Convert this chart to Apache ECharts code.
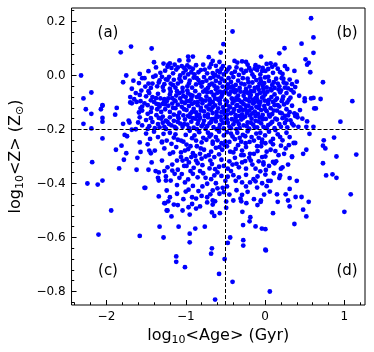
<!DOCTYPE html>
<html>
<head>
<meta charset="utf-8">
<script src="https://cdn.jsdelivr.net/npm/echarts@6/dist/echarts.min.js"></script>
<style>
  html, body { margin: 0; padding: 0; background: #fff; }
  #chart { width: 374px; height: 352px; }
</style>
</head>
<body>
<div id="chart"></div>
<script>
// [log10 <Age>, log10 <Z>] for each galaxy
var stars = [
  // upper outliers
  [-1.82,0.086],[-1.69,0.107],[-1.43,0.100],[-0.41,0.163],[-0.525,0.116],[-0.56,0.085],[-0.71,0.068],
  [-0.97,0.070],[-0.91,0.070],[-1.08,0.056],[-0.965,0.056],[-0.66,0.054],[-0.575,0.050],[-0.385,0.054],
  [-0.05,0.070],[0.58,0.212],[0.61,0.141],[0.46,0.118],[0.245,0.101],[0.18,0.082],[0.61,0.084],
  [0.51,0.060],[0.55,0.047],[0.53,0.040],[-1.40,0.049],[-1.28,0.044],[-0.29,0.052],[-0.24,0.050],[-0.35,0.048],
  // 0 .. 0.05
  [-2.32,0.000],[-1.75,0.000],[-1.375,0.030],[-1.47,0.016],[-1.23,0.032],[-1.22,0.040],[-1.20,0.045],
  [-1.10,0.030],[-1.05,0.035],[-1.02,0.028],[-0.98,0.037],[-0.95,0.030],[-1.00,0.020],[-1.12,0.022],
  [0.02,0.043],[0.07,0.045],[0.13,0.040],[0.005,0.017],[0.37,0.017],[0.57,0.012],[-0.89,0.004],
  [-0.76,0.022],[-0.66,0.009],[-0.60,0.017],[-0.55,0.025],[-0.49,0.014],[-0.38,0.014],[-0.30,0.022],
  [-0.24,0.017],[-0.16,0.004],[-0.036,0.017],[-1.07,0.000],[-0.84,0.012],[-0.70,0.030],[-0.45,0.030],
  [-0.20,0.028],[-0.10,0.020],[0.10,0.010],[0.22,0.006],[-1.32,0.010],[-1.58,0.006],[-0.62,0.036],
  [-0.78,0.040],[-0.12,0.038],[0.28,0.024],[-1.16,0.008],[-0.93,0.012],[-0.52,0.004],[-0.33,0.002],
  [-0.06,0.004],[0.16,0.025],
  [-1.26,0.018],[-1.18,0.028],[-1.14,0.040],[-1.03,0.010],[-0.97,0.004],[-0.91,0.025],[-0.87,0.038],
  [-0.81,0.020],[-0.73,0.008],[-0.68,0.042],[-0.63,0.002],[-0.57,0.012],[-0.53,0.035],[-0.47,0.022],
  [-0.42,0.008],[-0.36,0.030],[-0.27,0.010],[-0.22,0.040],[-0.18,0.018],[-0.13,0.026],[-0.08,0.032],
  [-0.03,0.028],[0.04,0.024],[0.09,0.032],[0.19,0.012],[0.25,0.035],
  // -0.05 .. 0
  [-1.59,-0.028],[-1.52,-0.010],[-1.55,-0.010],[-1.41,-0.005],[-1.38,-0.001],[-1.34,-0.026],[-1.25,-0.014],
  [-1.51,-0.041],[-1.44,-0.046],[-1.29,-0.043],[-0.84,-0.017],[-0.74,-0.019],[-0.59,-0.004],[-0.11,-0.017],
  [0.00,-0.007],[-0.34,-0.019],[-0.43,-0.024],[-1.23,-0.016],[-1.15,-0.016],[-1.01,-0.008],[-0.95,-0.019],
  [-0.87,-0.033],[-0.80,-0.041],[-0.72,-0.046],[-0.67,-0.030],[-0.535,-0.041],[-0.47,-0.033],[-0.32,-0.046],
  [-0.26,-0.033],[-0.195,-0.041],[-0.13,-0.046],[-0.07,-0.030],[-1.20,-0.049],[-1.04,-0.046],[0.21,-0.010],
  [0.235,-0.026],[0.40,-0.023],[0.73,-0.025],[0.38,-0.043],[-1.79,-0.025],[-1.66,-0.019],[-1.47,-0.030],
  [-1.30,-0.005],[-1.10,-0.030],[-0.90,-0.008],[-0.62,-0.020],[-0.55,-0.012],[-0.40,-0.006],[-0.22,-0.012],
  [-0.03,-0.038],[0.05,-0.020],[0.09,-0.035],[0.14,-0.012],[0.18,-0.040],[0.27,-0.030],[0.31,-0.015],
  [-0.16,-0.026],[-0.48,-0.048],[-0.64,-0.038],[-0.98,-0.040],[-1.16,-0.036],[-1.36,-0.040],[-0.77,-0.006],
  [-0.28,-0.010],[0.12,-0.046],[0.25,-0.045],[-0.06,-0.012],[-0.37,-0.035],[-0.57,-0.027],[-0.82,-0.028],
  [-1.06,-0.022],[-1.19,-0.030],[-0.69,-0.010],[-0.44,-0.044],[0.02,-0.044],
  [-1.42,-0.030],[-1.33,-0.018],[-1.27,-0.032],[-1.21,-0.005],[-1.13,-0.045],[-1.08,-0.012],[-0.96,-0.030],
  [-0.92,-0.045],[-0.86,-0.010],[-0.79,-0.025],[-0.75,-0.052],[-0.70,-0.035],[-0.65,-0.005],[-0.60,-0.045],
  [-0.57,-0.060],[-0.51,-0.020],[-0.46,-0.010],[-0.41,-0.040],[-0.36,-0.055],[-0.30,-0.030],[-0.24,-0.050],
  [-0.21,-0.025],[-0.18,-0.058],[-0.14,-0.005],[-0.09,-0.042],[-0.05,-0.022],[-0.01,-0.028],[0.04,-0.005],
  [0.07,-0.050],[0.11,-0.025],[0.16,-0.030],[0.20,-0.055],[0.23,-0.012],[0.29,-0.048],[0.34,-0.032],
  // -0.10 .. -0.05
  [-2.29,-0.085],[-2.19,-0.063],[-1.68,-0.049],[-1.63,-0.065],[-1.56,-0.056],[-1.47,-0.058],[-1.42,-0.080],
  [-1.375,-0.084],[-1.32,-0.085],[-1.27,-0.088],[-1.70,-0.080],[-1.65,-0.088],[-1.57,-0.095],[-1.50,-0.077],
  [-1.27,-0.095],[-0.62,-0.051],[-0.395,-0.051],[-0.021,-0.049],[-1.28,-0.056],[-1.11,-0.058],[-0.98,-0.056],
  [-0.915,-0.075],[-0.83,-0.072],[-0.74,-0.078],[-0.65,-0.074],[-0.55,-0.079],[-0.45,-0.070],[-0.36,-0.082],
  [-0.27,-0.075],[-0.19,-0.080],[-0.10,-0.072],[-0.037,-0.082],[-1.24,-0.095],[-1.14,-0.092],[-1.05,-0.098],
  [-0.95,-0.094],[-0.85,-0.099],[-0.75,-0.093],[-0.66,-0.099],[-0.57,-0.092],[-0.48,-0.097],[-0.38,-0.093],
  [-0.29,-0.100],[-0.195,-0.096],[-0.087,-0.098],[-0.004,-0.093],[0.36,-0.063],[0.50,-0.085],[0.58,-0.085],
  [0.61,-0.083],[0.70,-0.087],[1.10,-0.095],[0.03,-0.060],[0.08,-0.055],[0.12,-0.070],[0.15,-0.085],
  [0.19,-0.062],[0.23,-0.078],[0.27,-0.065],[0.30,-0.090],[0.05,-0.090],[0.10,-0.098],[0.17,-0.052],
  [0.21,-0.095],[0.00,-0.070],[0.43,-0.075],[-1.20,-0.070],[-1.08,-0.065],[-1.00,-0.080],[-0.88,-0.058],
  [-0.78,-0.060],[-0.70,-0.088],[-0.60,-0.064],[-0.50,-0.058],[-0.41,-0.088],[-0.31,-0.060],[-0.23,-0.062],
  [-0.14,-0.058],[-0.06,-0.064],[-1.35,-0.068],[-1.17,-0.084],[-0.93,-0.087],[-0.81,-0.088],[-0.63,-0.086],
  [-0.53,-0.063],[-0.33,-0.091],[-0.15,-0.089],[-0.08,-0.052],[-1.03,-0.076],[-0.86,-0.080],[-0.68,-0.062],
  [-0.43,-0.060],[-0.25,-0.088],[-0.12,-0.084],[0.33,-0.054],[-1.44,-0.092],[-1.58,-0.072],[-1.12,-0.074],
  [-0.97,-0.066],[-0.58,-0.086],[-0.21,-0.066],[-0.02,-0.060],
  [-1.46,-0.065],[-1.22,-0.085],[-1.19,-0.060],[-1.13,-0.095],[-1.07,-0.085],[-1.04,-0.060],[-0.99,-0.095],
  [-0.94,-0.072],[-0.89,-0.100],[-0.84,-0.078],[-0.79,-0.092],[-0.73,-0.062],[-0.69,-0.095],[-0.64,-0.072],
  [-0.59,-0.090],[-0.54,-0.070],[-0.50,-0.092],[-0.46,-0.068],[-0.42,-0.085],[-0.38,-0.062],[-0.34,-0.075],
  [-0.30,-0.098],[-0.26,-0.062],[-0.22,-0.090],[-0.18,-0.072],[-0.14,-0.100],[-0.10,-0.088],[-0.06,-0.098],
  [-0.02,-0.078],[0.03,-0.095],[0.08,-0.080],[0.13,-0.092],[0.22,-0.088],[0.28,-0.100],[0.32,-0.082],
  // -0.15 .. -0.10
  [-2.05,-0.110],[-2.26,-0.125],[-2.19,-0.142],[-2.07,-0.125],[-2.05,-0.112],[-1.87,-0.120],[-1.89,-0.145],
  [-1.57,-0.122],[-1.59,-0.137],[-1.52,-0.103],[-1.29,-0.105],[-1.26,-0.107],[-1.70,-0.100],[-1.34,-0.107],
  [0.50,-0.095],[0.62,-0.122],[0.64,-0.122],[0.37,-0.140],[0.38,-0.150],[0.40,-0.145],[0.41,-0.155],
  [-1.68,-0.103],[-1.62,-0.098],[-1.55,-0.115],[-1.48,-0.110],[-1.43,-0.120],[-1.37,-0.105],[-1.33,-0.115],
  [-1.28,-0.104],[-1.55,-0.130],[-1.48,-0.142],[-1.44,-0.135],[-1.37,-0.147],[-1.34,-0.157],[-1.29,-0.152],
  [-1.25,-0.167],[-1.22,-0.112],[-1.20,-0.135],[-1.17,-0.104],[-1.15,-0.145],[-1.13,-0.121],[-1.10,-0.108],
  [-1.08,-0.138],[-1.05,-0.116],[-1.03,-0.148],[-1.01,-0.102],[-0.99,-0.128],[-0.96,-0.113],[-0.94,-0.141],
  [-0.92,-0.105],[-0.90,-0.124],[-0.87,-0.137],[-0.85,-0.110],[-0.83,-0.146],[-0.81,-0.120],[-0.79,-0.103],
  [-0.77,-0.133],[-0.74,-0.115],[-0.72,-0.144],[-0.70,-0.107],[-0.68,-0.127],[-0.66,-0.139],[-0.63,-0.111],
  [-0.61,-0.149],[-0.59,-0.122],[-0.57,-0.104],[-0.55,-0.136],[-0.53,-0.117],[-0.51,-0.143],[-0.49,-0.108],
  [-0.47,-0.129],[-0.45,-0.114],[-0.43,-0.140],[-0.41,-0.102],[-0.39,-0.125],[-0.37,-0.147],[-0.35,-0.110],
  [-0.33,-0.131],[-0.31,-0.118],[-0.29,-0.144],[-0.27,-0.106],[-0.25,-0.126],[-0.23,-0.139],[-0.21,-0.112],
  [-0.19,-0.148],[-0.17,-0.121],[-0.15,-0.104],[-0.13,-0.134],[-0.11,-0.116],[-0.09,-0.142],[-0.07,-0.109],
  [-0.05,-0.128],[-0.03,-0.146],[-0.01,-0.113],[0.02,-0.132],[0.04,-0.105],[0.07,-0.121],[0.09,-0.143],
  [0.12,-0.110],[0.15,-0.130],[0.18,-0.115],[0.21,-0.140],[0.24,-0.107],[0.27,-0.125],[0.31,-0.136],
  [0.34,-0.112],[0.44,-0.128],[0.29,-0.148],
  [-1.40,-0.098],[-1.36,-0.125],[-1.31,-0.135],[-1.26,-0.125],[-1.16,-0.120],[-1.10,-0.150],[-1.02,-0.125],
  [-0.97,-0.150],[-0.92,-0.135],[-0.86,-0.150],[-0.81,-0.130],[-0.76,-0.150],[-0.71,-0.125],[-0.66,-0.118],
  [-0.61,-0.135],[-0.56,-0.152],[-0.52,-0.128],[-0.48,-0.145],[-0.44,-0.118],[-0.40,-0.135],[-0.36,-0.112],
  [-0.32,-0.150],[-0.28,-0.128],[-0.24,-0.112],[-0.20,-0.130],[-0.16,-0.140],[-0.12,-0.150],[-0.08,-0.120],
  [-0.04,-0.155],[0.00,-0.125],[0.05,-0.145],[0.11,-0.130],[0.16,-0.110],[0.19,-0.138],[0.25,-0.150],
  // -0.20 .. -0.15
  [-2.29,-0.179],[-2.05,-0.157],[-2.05,-0.171],[-1.79,-0.179],[-1.72,-0.167],[-1.71,-0.174],[-1.68,-0.201],
  [-1.63,-0.199],[-1.60,-0.174],[-1.58,-0.155],[-2.19,-0.196],[0.95,-0.171],[0.61,-0.190],[0.53,-0.170],
  [0.52,-0.190],[0.42,-0.190],[0.47,-0.160],[-1.50,-0.165],[-1.46,-0.188],[-1.42,-0.172],[-1.39,-0.195],
  [-1.35,-0.180],[-1.31,-0.160],[-1.27,-0.190],[-1.23,-0.172],[-1.20,-0.155],[-1.18,-0.185],[-1.15,-0.168],
  [-1.12,-0.196],[-1.09,-0.158],[-1.07,-0.178],[-1.04,-0.190],[-1.01,-0.163],[-0.98,-0.182],[-0.95,-0.153],
  [-0.93,-0.171],[-0.90,-0.193],[-0.88,-0.160],[-0.85,-0.179],[-0.82,-0.157],[-0.80,-0.188],[-0.77,-0.168],
  [-0.75,-0.198],[-0.72,-0.155],[-0.70,-0.177],[-0.67,-0.162],[-0.65,-0.191],[-0.62,-0.170],[-0.60,-0.154],
  [-0.57,-0.183],[-0.55,-0.165],[-0.52,-0.196],[-0.50,-0.158],[-0.47,-0.175],[-0.45,-0.189],[-0.42,-0.162],
  [-0.40,-0.181],[-0.37,-0.156],[-0.35,-0.170],[-0.32,-0.194],[-0.30,-0.163],[-0.27,-0.185],[-0.25,-0.152],
  [-0.22,-0.174],[-0.20,-0.197],[-0.17,-0.160],[-0.15,-0.182],[-0.12,-0.168],[-0.10,-0.192],[-0.07,-0.155],
  [-0.05,-0.177],[-0.02,-0.190],[0.01,-0.161],[0.04,-0.184],[0.06,-0.152],[0.09,-0.172],[0.12,-0.195],
  [0.15,-0.163],[0.18,-0.180],[0.22,-0.158],[0.25,-0.176],[0.28,-0.192],[0.32,-0.166],[0.36,-0.185],
  [-0.61,-0.199],[-0.86,-0.199],[-0.36,-0.199],
  [-1.55,-0.185],[-1.48,-0.198],[-1.44,-0.158],[-1.33,-0.192],[-1.29,-0.175],[-1.25,-0.198],[-1.21,-0.180],
  [-1.14,-0.190],[-1.10,-0.172],[-1.02,-0.180],[-0.96,-0.195],[-0.91,-0.158],[-0.84,-0.168],[-0.78,-0.180],
  [-0.73,-0.188],[-0.68,-0.172],[-0.63,-0.160],[-0.58,-0.195],[-0.53,-0.176],[-0.48,-0.163],[-0.43,-0.195],
  [-0.38,-0.170],[-0.33,-0.180],[-0.28,-0.158],[-0.23,-0.188],[-0.18,-0.175],[-0.13,-0.192],[-0.08,-0.170],
  [-0.03,-0.162],[0.02,-0.195],[0.07,-0.178],[0.13,-0.160],[0.20,-0.190],[0.27,-0.165],[0.34,-0.178],
  // -0.25 .. -0.20
  [-1.77,-0.220],[-1.74,-0.225],[-2.05,-0.233],[-1.58,-0.248],[-1.28,-0.216],[0.56,-0.216],[0.87,-0.230],
  [0.74,-0.240],[0.38,-0.250],[0.36,-0.250],[-0.87,-0.241],[-0.78,-0.231],[-0.74,-0.238],[-0.70,-0.226],
  [-0.68,-0.219],[-0.62,-0.228],[-0.55,-0.251],[-0.45,-0.246],[-0.41,-0.226],[-0.38,-0.236],[-0.32,-0.231],
  [-0.245,-0.251],[-0.195,-0.246],[-0.14,-0.241],[-0.08,-0.231],[-0.037,-0.238],[-1.24,-0.241],[-1.10,-0.238],
  [-1.06,-0.241],[-1.50,-0.215],[-1.45,-0.235],[-1.40,-0.208],[-1.35,-0.228],[-1.20,-0.212],[-1.15,-0.230],
  [-1.00,-0.220],[-0.95,-0.205],[-0.92,-0.232],[-0.83,-0.210],[-0.66,-0.245],[-0.58,-0.208],[-0.52,-0.222],
  [-0.48,-0.210],[-0.35,-0.212],[-0.28,-0.220],[-0.22,-0.207],[-0.11,-0.215],[0.00,-0.222],[0.05,-0.208],
  [0.10,-0.235],[0.16,-0.218],[0.22,-0.240],[0.27,-0.212],[0.31,-0.228],[-1.30,-0.245],[-0.04,-0.248],[0.13,-0.202],
  [-1.13,-0.218],[-1.03,-0.245],[-0.89,-0.222],[-0.80,-0.248],[-0.72,-0.212],[-0.60,-0.240],[-0.50,-0.245],
  [-0.43,-0.215],[-0.30,-0.245],[-0.25,-0.225],[-0.17,-0.228],[-0.06,-0.212],[0.07,-0.245],[0.19,-0.228],
  // -0.30 .. -0.25
  [-1.88,-0.275],[-1.81,-0.260],[-1.75,-0.288],[-1.57,-0.283],[-1.44,-0.288],[-1.48,-0.255],[-1.46,-0.278],
  [-1.39,-0.278],[-1.30,-0.248],[0.24,-0.290],[0.26,-0.270],[0.48,-0.290],[0.52,-0.275],[0.20,-0.260],
  [0.13,-0.280],[0.004,-0.300],[0.34,-0.300],[1.15,-0.293],[0.90,-0.300],[0.73,-0.260],[0.76,-0.270],
  [-1.18,-0.253],[-0.99,-0.256],[-0.97,-0.273],[-1.01,-0.278],[-0.66,-0.253],[-0.575,-0.265],[-0.54,-0.275],
  [0.004,-0.251],[-1.20,-0.290],[-0.91,-0.288],[-0.82,-0.290],[-0.40,-0.285],[-0.14,-0.290],[-0.095,-0.280],
  [-1.12,-0.265],[-1.06,-0.285],[-0.86,-0.262],[-0.77,-0.275],[-0.71,-0.295],[-0.62,-0.268],[-0.48,-0.262],
  [-0.44,-0.282],[-0.34,-0.258],[-0.29,-0.278],[-0.24,-0.265],[-0.19,-0.290],[-0.05,-0.262],[0.07,-0.275],
  [0.10,-0.255],[0.17,-0.295],[0.30,-0.258],[-1.27,-0.270],
  [-1.16,-0.285],[-0.94,-0.262],[-0.81,-0.270],[-0.68,-0.282],[-0.58,-0.292],[-0.51,-0.258],[-0.37,-0.272],
  [-0.27,-0.295],[-0.10,-0.262],[0.02,-0.282],
  // -0.35 .. -0.30
  [-2.18,-0.321],[-1.84,-0.344],[-1.78,-0.312],[-1.61,-0.305],[-1.43,-0.322],[-1.62,-0.349],[-1.47,-0.349],
  [-1.30,-0.315],[0.73,-0.325],[-0.02,-0.330],[0.29,-0.330],[0.22,-0.340],[0.20,-0.345],[0.01,-0.350],
  [0.10,-0.320],[0.12,-0.325],[0.14,-0.318],[0.34,-0.302],[-1.11,-0.315],[-1.06,-0.302],[-1.04,-0.315],
  [-0.99,-0.310],[-0.96,-0.322],[-0.93,-0.302],[-0.88,-0.298],[-0.87,-0.315],[-0.85,-0.325],[-0.75,-0.300],
  [-0.69,-0.315],[-0.64,-0.302],[-0.55,-0.312],[-0.38,-0.305],[-0.36,-0.327],[-0.30,-0.295],[-0.29,-0.322],
  [-0.25,-0.317],[-0.20,-0.305],[-0.18,-0.315],[-0.16,-0.330],[-0.037,-0.302],[-0.021,-0.322],[-1.23,-0.340],
  [-1.10,-0.349],[-0.99,-0.335],[-0.79,-0.332],[-0.70,-0.344],[-0.63,-0.347],[-1.17,-0.330],[-0.52,-0.335],
  [-0.45,-0.318],[-0.12,-0.345],
  [-1.02,-0.335],[-0.90,-0.342],[-0.80,-0.308],[-0.67,-0.328],[-0.58,-0.338],[-0.47,-0.345],[-0.41,-0.330],
  [-0.33,-0.340],[-0.24,-0.345],[-0.08,-0.318],[0.05,-0.335],
  // -0.40 .. -0.35
  [-1.38,-0.354],[-1.34,-0.359],[-1.35,-0.379],[-1.34,-0.389],[-1.27,-0.354],[-1.25,-0.374],[-1.25,-0.389],
  [-2.05,-0.389],[0.77,-0.370],[0.85,-0.366],[0.90,-0.379],[0.40,-0.390],[0.31,-0.380],[0.04,-0.390],
  [0.07,-0.390],[0.18,-0.380],[0.19,-0.370],[-1.17,-0.352],[-1.14,-0.364],[-1.08,-0.379],[-0.94,-0.354],
  [-0.91,-0.364],[-0.85,-0.377],[-0.82,-0.354],[-0.75,-0.379],[-0.68,-0.384],[-0.60,-0.359],[-0.55,-0.372],
  [-0.43,-0.354],[-0.40,-0.369],[-0.33,-0.377],[-0.29,-0.396],[-0.19,-0.396],[-0.145,-0.384],[-0.095,-0.374],
  [0.004,-0.367],[-1.19,-0.389],[-1.01,-0.396],[-0.50,-0.390],[-0.06,-0.355],
  [-1.05,-0.365],[-0.97,-0.385],[-0.78,-0.362],[-0.64,-0.370],[-0.47,-0.375],[-0.37,-0.390],[-0.24,-0.368],
  [-0.12,-0.392],[0.11,-0.362],
  // -0.45 .. -0.40
  [-2.24,-0.400],[-2.11,-0.404],[-1.52,-0.416],[-1.51,-0.416],[-1.34,-0.448],[1.08,-0.440],[0.46,-0.450],
  [0.385,-0.450],[0.31,-0.420],[0.26,-0.440],[0.15,-0.440],[0.06,-0.430],[-0.24,-0.411],[-0.037,-0.399],
  [-1.24,-0.426],[-1.20,-0.451],[-1.11,-0.438],[-0.965,-0.423],[-0.92,-0.451],[-0.80,-0.446],[-0.73,-0.451],
  [-0.60,-0.418],[-0.575,-0.438],[-0.45,-0.441],[-0.22,-0.431],[-0.012,-0.441],[-0.91,-0.409],[-0.79,-0.411],
  [-0.73,-0.401],[-0.62,-0.399],[-0.535,-0.416],[-1.11,-0.406],[-0.66,-0.426],[-0.48,-0.411],
  [-1.00,-0.430],[-0.84,-0.428],[-0.69,-0.440],[-0.52,-0.432],[-0.36,-0.425],[-0.29,-0.442],[-0.10,-0.415],
  [0.02,-0.410],
  // below -0.45
  [-1.03,-0.458],[-0.87,-0.456],[-0.66,-0.463],[-0.40,-0.463],[-0.31,-0.456],[-0.14,-0.458],[-0.055,-0.468],
  [0.16,-0.468],[0.29,-0.463],[0.31,-0.485],[0.55,-0.468],[0.48,-0.497],[0.52,-0.522],[1.00,-0.505],
  [0.10,-0.510],[0.37,-0.550],[-0.04,-0.567],[0.01,-0.648],[0.06,-0.800],[-1.26,-0.473],[-1.22,-0.466],
  [-1.15,-0.478],[-1.10,-0.480],[-1.04,-0.500],[-0.965,-0.488],[-0.92,-0.476],[-0.87,-0.493],[-0.82,-0.485],
  [-0.73,-0.470],[-0.66,-0.478],[-0.63,-0.466],[-1.23,-0.500],[-1.18,-0.522],[-0.95,-0.515],[-0.67,-0.507],
  [-0.64,-0.520],[-0.57,-0.510],[-1.09,-0.560],[-0.76,-0.560],[-0.88,-0.567],[-0.95,-0.586],[-0.95,-0.618],
  [-1.28,-0.600],[-0.67,-0.640],[-0.68,-0.660],[-1.12,-0.670],[-1.12,-0.690],[-1.01,-0.710],[-0.51,-0.680],
  [-0.58,-0.735],[-0.44,-0.600],[-0.47,-0.620],[-0.49,-0.490],[-0.49,-0.467],[-0.30,-0.466],[-0.236,-0.473],
  [-0.286,-0.505],[-0.186,-0.525],[-0.195,-0.540],[-0.277,-0.554],[-0.12,-0.559],[0.004,-0.569],[-0.096,-0.480],
  [-0.053,-0.463],[-0.275,-0.610],[-0.275,-0.630],[0.004,-0.645],[-0.41,-0.764],[-0.63,-0.830],[-1.94,-0.500],
  [-2.10,-0.589],[-1.58,-0.594],[-1.33,-0.560],[-1.27,-0.473],[-1.24,-0.500]
];

var xMajorTicks = [-2, -1, 0, 1];
var xMinorTicks = [-2.4, -2.2, -1.8, -1.6, -1.4, -1.2, -0.8, -0.6, -0.4, -0.2, 0.2, 0.4, 0.6, 0.8, 1.2];
var yMajorTicks = [-0.8, -0.6, -0.4, -0.2, 0, 0.2];
var yMinorTicks = [-0.84, -0.76, -0.72, -0.68, -0.64, -0.56, -0.52, -0.48, -0.44, -0.36, -0.32, -0.28,
                   -0.24, -0.16, -0.12, -0.08, -0.04, 0.04, 0.08, 0.12, 0.16, 0.24];
var ageSplit = -0.5;
var zSplit = -0.2;
var panelNames = ['(a)', '(b)', '(c)', '(d)'];

var FONT = 'DejaVu Sans';
var xRange = [-2.44, 1.26];
var yRange = [-0.85, 0.25];

function minus(s) { return s.replace('-', '\u2212'); }

function xAxisFor(ticks, len, labels) {
  return {
    type: 'value', position: 'bottom', min: xRange[0], max: xRange[1],
    splitLine: { show: false },
    axisLine: { show: false, onZero: false },
    axisTick: { show: true, inside: true, length: len, customValues: ticks,
                lineStyle: { color: '#000', width: 1 } },
    axisLabel: { show: labels, customValues: ticks, margin: 6, color: '#000',
                 fontFamily: FONT, fontSize: 12,
                 formatter: function (v) { return minus(String(Math.round(v))); } }
  };
}

function yAxisFor(ticks, len, labels) {
  return {
    type: 'value', position: 'left', min: yRange[0], max: yRange[1],
    splitLine: { show: false },
    axisLine: { show: false, onZero: false },
    axisTick: { show: true, inside: true, length: len, customValues: ticks,
                lineStyle: { color: '#000', width: 1 } },
    axisLabel: { show: labels, customValues: ticks, margin: 6, color: '#000',
                 fontFamily: FONT, fontSize: 12,
                 formatter: function (v) { return minus(v.toFixed(1)); } }
  };
}

var nameStyle = {
  color: '#000', fontFamily: FONT, fontSize: 16,
  rich: { n: { fontSize: 16, fontFamily: FONT, color: '#000' },
          s: { fontSize: 11, fontFamily: FONT, color: '#000', padding: [8, 0, 0, 0] } }
};

var xMain = xAxisFor(xMajorTicks, 5, true);
xMain.name = '{n|log}{s|10}{n|<Age> (Gyr)}';
xMain.nameLocation = 'middle';
xMain.nameGap = 17;
xMain.nameTextStyle = nameStyle;

var yMain = yAxisFor(yMajorTicks, 5, true);
yMain.name = '{n|log}{s|10}{n|<Z> (Z}{s|\u2299}{n|)}';
yMain.nameLocation = 'middle';
yMain.nameGap = 40;
yMain.nameTextStyle = nameStyle;

var labelPos = [[108, 33], [347, 33], [108, 271], [347, 271]];

var chart = echarts.init(document.getElementById('chart'), null, { renderer: 'canvas' });
chart.setOption({
  animation: false,
  backgroundColor: '#fff',
  grid: { left: 67, right: 9, top: 8, bottom: 47, show: true,
          borderColor: '#000', borderWidth: 1, backgroundColor: 'transparent' },
  xAxis: [xMain, xAxisFor(xMinorTicks, 2.7, false)],
  yAxis: [yMain, yAxisFor(yMinorTicks, 2.7, false)],
  graphic: panelNames.map(function (t, i) {
    return { type: 'text', x: labelPos[i][0], y: labelPos[i][1], silent: true,
             style: { text: t, fill: '#000', font: '15px "DejaVu Sans"',
                      textAlign: 'center', textVerticalAlign: 'middle' } };
  }),
  series: [{
    type: 'scatter',
    xAxisIndex: 0, yAxisIndex: 0,
    data: stars,
    symbol: 'circle',
    symbolSize: 4.8,
    itemStyle: { color: '#0000ff', opacity: 1 },
    emphasis: { disabled: true },
    markLine: {
      silent: true, symbol: ['none', 'none'], label: { show: false },
      lineStyle: { color: '#000', type: [4, 2], width: 1 },
      data: [{ xAxis: ageSplit }, { yAxis: zSplit }]
    }
  }]
});
</script>
</body>
</html>
